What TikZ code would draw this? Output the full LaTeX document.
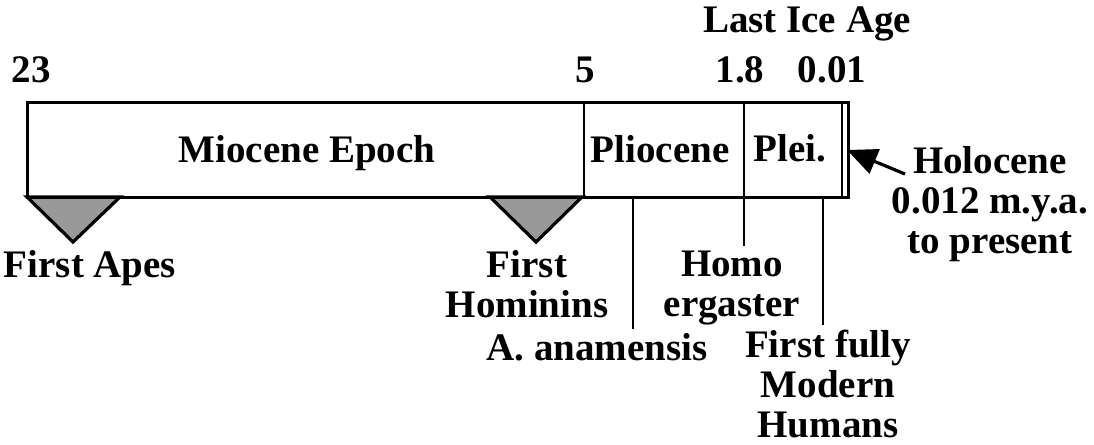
\documentclass[tikz,border=0pt]{standalone}
\usepackage{fontspec}
\setmainfont{Liberation Serif}
\usetikzlibrary{arrows.meta}
\tikzset{
  lbl/.style={font=\bfseries\fontsize{19.5}{19.8}\selectfont,inner sep=0pt,anchor=base,align=center},
  frame/.style={draw=black,line width=1.5pt},
  tick/.style={draw=black,line width=1.1pt},
  marker/.style={draw=black,fill=black!40,line width=1.6pt},
  pointer/.style={-{Triangle[length=15pt,width=13pt]},draw=black,line width=1.6pt},
}

\begin{document}
\begin{tikzpicture}[x=0.5pt,y=-0.5pt]
  \useasboundingbox (0,0) rectangle (1094,445);

  % ---------------- markers hanging under the bar ----------------
  \draw[marker] (27,197) -- (120,197) -- (73,242) -- cycle;
  \draw[marker] (490,197) -- (582,197) -- (536,242) -- cycle;

  % ---------------- the bar ----------------
  \coordinate (bar nw) at (27,102);
  \coordinate (bar se) at (848,197);
  \draw[frame] (bar nw) rectangle (bar se);
  \draw[tick] (584,102) -- (584,197);   % 5
  \draw[tick] (744,102) -- (744,197);   % 1.8
  \draw[tick] (842,102) -- (842,197);   % 0.01

  % ages above the bar
  \node[lbl] (ice) at (807,32) {Last Ice Age};
  \node[lbl] (m23) at (31,82) {23};
  \node[lbl] (m5) at (585,82) {5};
  \node[lbl] (m18) at (740,82) {1.8};
  \node[lbl] (m001) at (832,82) {0.01};

  % epochs (multi-line labels sit on their last line)
  \node[lbl] (mio) at (307,162) {Miocene Epoch};
  \node[lbl] (plio) at (660,162) {Pliocene};
  \node[lbl] (plei) at (790,161) {Plei.};
  \node[lbl] (holo) at (990,253) {Holocene\\0.012 m.y.a.\\to present};

  % events below the bar
  \node[lbl] (apes) at (90,277) {First Apes};
  \node[lbl] (hom) at (527,317) {First\\Hominins};
  \node[lbl] (erg) at (732,316) {Homo\\ergaster};
  \node[lbl] (anam) at (597,360) {A. anamensis};
  \node[lbl] (modern) at (828,437) {First fully\\Modern\\Humans};

  % leaders
  \coordinate (anam lead) at (633,197);
  \coordinate (anam end) at (633,329);
  \coordinate (erg lead) at (744,197);
  \coordinate (erg end) at (744,246);
  \coordinate (modern lead) at (823,197);
  \coordinate (modern end) at (823,325);
  \draw[tick] (anam lead) -- (anam end);
  \draw[tick] (erg lead) -- (erg end);
  \draw[tick] (modern lead) -- (modern end);

  \coordinate (holo tail) at (905,174);
  \coordinate (holo tip) at (847,150);
  \draw[pointer] (holo tail) -- (holo tip);
\end{tikzpicture}
\end{document}
